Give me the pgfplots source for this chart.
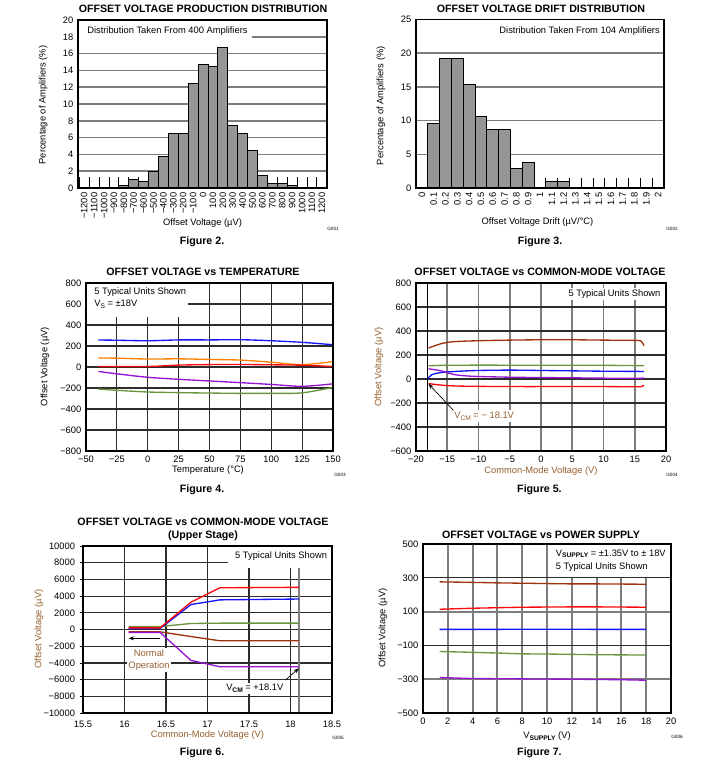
\documentclass[border=0pt]{standalone}
\usepackage{pgfplots}
\pgfplotsset{compat=1.18}
\usepackage{fontspec}
\setmainfont{Liberation Sans}
\usetikzlibrary{arrows.meta}

\definecolor{cblue}{RGB}{20,20,245}
\definecolor{corange}{RGB}{255,128,0}
\definecolor{cred}{RGB}{250,10,10}
\definecolor{cpurple}{RGB}{150,20,210}
\definecolor{cgreen}{RGB}{105,150,60}
\definecolor{cbrown}{RGB}{160,50,15}
\definecolor{lblbrown}{RGB}{150,95,45}
\definecolor{gridd}{RGB}{45,45,45}
\definecolor{gridg}{RGB}{125,125,125}
\definecolor{barg}{RGB}{150,150,150}

\newcommand\tf{\fontsize{7}{8.4}\selectfont}
\newcommand\ttl{\bfseries\fontsize{8}{9.6}\selectfont}
\newcommand\gf{\fontsize{3.5}{4}\selectfont}
\newcommand\sub[1]{\raisebox{-0.4ex}{\fontsize{5}{5}\selectfont #1}}
\newcommand\bsub[1]{\raisebox{-0.35ex}{\bfseries\fontsize{5}{5}\selectfont #1}}

\pgfplotsset{
  base/.style={scale only axis, clip=false, anchor=north west,
    axis line style={line width=1pt, black},
    tick label style={font=\tf}, label style={font=\tf},
    tick style={draw=none}, scaled ticks=false,
    /pgf/number format/assume math mode=true},
  crv/.style={line width=1pt, no marks},
}

\begin{document}
\begin{tikzpicture}
\path[use as bounding box] (0,0) rectangle (533.25pt,-584.25pt);

% ---------------- Figure 2 ----------------
\begin{axis}[base, at={(58.5pt,-15pt)}, width=186.75pt, height=126pt,
  xmin=-0.63, xmax=24.52, ymin=0, ymax=20,
  xtick={0,...,24},
  xticklabels={−1200,−1100,−1000,−900,−800,−700,−600,−500,−400,−300,−200,−100,0,100,200,300,400,500,600,700,800,900,1000,1100,1200},
  xticklabel style={rotate=90, anchor=east},
  ytick={0,2,...,20}, yticklabels={0,2,4,6,8,10,12,14,16,18,20},
  ymajorgrids, grid style={gridg, line width=1.1pt},
  xlabel={Offset Voltage (µV)}, ylabel={Percentage of Amplifiers (\%)},
  xlabel style={at={(axis description cs:0.5,-0.208)}, anchor=center},
  ylabel style={at={(axis description cs:-0.14,0.494)}, anchor=center}]
\addplot[ycomb, black, line width=0.7pt, no marks] coordinates {
 (-0.5,1.3) (0.5,1.3) (1.5,1.3) (2.5,1.3) (3.5,1.3) (4.5,1.3) (5.5,1.3) (6.5,1.3)
 (7.5,1.3) (8.5,1.3) (9.5,1.3) (10.5,1.3) (11.5,1.3) (12.5,1.3) (13.5,1.3) (14.5,1.3)
 (15.5,1.3) (16.5,1.3) (17.5,1.3) (18.5,1.3) (19.5,1.3) (20.5,1.3) (21.5,1.3) (22.5,1.3) (23.5,1.3)};
\addplot[ybar, bar width=1, bar shift=0, fill=barg, draw=black, line width=0.7pt] coordinates {
 (4,0.25) (5,1) (6,0.75) (7,2) (8,3.75) (9,6.5) (10,6.5) (11,12.5) (12,14.75) (13,14.5)
 (14,16.75) (15,7.5) (16,6.5) (17,4.5) (18,1.5) (19,0.5) (20,0.5) (21,0.25)};
\fill[white] (axis cs:-0.58,17.25) rectangle (axis cs:16.95,19.93);
\node[anchor=west, font=\tf, inner sep=0] at (axis cs:0.28,18.7) {Distribution Taken From 400 Amplifiers};
\draw[line width=1pt] (rel axis cs:0,0) rectangle (rel axis cs:1,1);
\end{axis}

% ---------------- Figure 3 ----------------
\begin{axis}[base, at={(312pt,-14.625pt)}, width=186pt, height=126.375pt,
  xmin=-0.5, xmax=20.5, ymin=0, ymax=25,
  xtick={0,...,20},
  xticklabels={0,0.1,0.2,0.3,0.4,0.5,0.6,0.7,0.8,0.9,1,1.1,1.2,1.3,1.4,1.5,1.6,1.7,1.8,1.9,2},
  xticklabel style={rotate=90, anchor=east},
  ytick={0,5,...,25}, yticklabels={0,5,10,15,20,25},
  ymajorgrids, grid style={gridg, line width=1.1pt},
  xlabel={Offset Voltage Drift (µV/°C)}, ylabel={Percentage of Amplifiers (\%)},
  xlabel style={at={(axis description cs:0.49,-0.202)}, anchor=center},
  ylabel style={at={(axis description cs:-0.141,0.488)}, anchor=center}]
\addplot[ycomb, black, line width=0.7pt, no marks] coordinates {
 (0.5,1.5) (1.5,1.5) (2.5,1.5) (3.5,1.5) (4.5,1.5) (5.5,1.5) (6.5,1.5) (7.5,1.5)
 (8.5,1.5) (9.5,1.5) (10.5,1.5) (11.5,1.5) (12.5,1.5) (13.5,1.5) (14.5,1.5) (15.5,1.5)
 (16.5,1.5) (17.5,1.5) (18.5,1.5) (19.5,1.5)};
\addplot[ybar, bar width=1, bar shift=0, fill=barg, draw=black, line width=0.7pt] coordinates {
 (1,9.6) (2,19.2) (3,19.2) (4,15.4) (5,10.6) (6,8.65) (7,8.65) (8,2.9) (9,3.85) (11,0.96) (12,0.96)};
\node[anchor=east, font=\tf, inner sep=0] at (rel axis cs:0.984,0.933) {Distribution Taken From 104 Amplifiers};
\draw[line width=1pt] (rel axis cs:0,0) rectangle (rel axis cs:1,1);
\end{axis}

% ---------------- Figure 4 ----------------
\begin{axis}[base, at={(64.5pt,-212.25pt)}, width=185.25pt, height=126pt,
  xmin=-50, xmax=150, ymin=-800, ymax=800,
  xtick={-50,-25,...,150}, xticklabels={−50,−25,0,25,50,75,100,125,150},
  ytick={-800,-600,...,800}, yticklabels={−800,−600,−400,−200,0,200,400,600,800},
  xmajorgrids, ymajorgrids, grid style={gridd, line width=0.9pt},
  xlabel={Temperature (°C)}, ylabel={Offset Voltage (µV)},
  xlabel style={at={(axis description cs:0.494,-0.113)}, anchor=center},
  ylabel style={at={(axis description cs:-0.166,0.502)}, anchor=center}]
\addplot[crv, cgreen, smooth] coordinates {(-40,-210) (-25,-222) (0,-238) (25,-244) (50,-248) (75,-251) (100,-251) (125,-246) (150,-194)};
\addplot[crv, cpurple, smooth] coordinates {(-40,-42) (-25,-65) (0,-98) (25,-117) (50,-133) (75,-149) (100,-166) (125,-184) (150,-160)};
\addplot[crv, corange, smooth] coordinates {(-40,86) (-25,84) (0,76) (25,78) (50,72) (75,66) (100,46) (125,22) (150,52)};
\addplot[crv, cred, smooth] coordinates {(-40,5) (0,5) (25,18) (50,23) (75,24) (100,21) (125,17) (150,5)};
\addplot[crv, cblue, smooth] coordinates {(-40,257) (-25,255) (0,250) (25,258) (50,258) (75,260) (100,250) (125,235) (150,212)};
\fill[white] (axis cs:-49.5,476) rectangle (axis cs:32.7,797);
\node[anchor=west, align=left, font=\tf, inner sep=0] at (axis cs:-43.5,657)
  {5 Typical Units Shown\\[0.6pt]V\sub{S} = ±18V};
\draw[line width=1pt] (rel axis cs:0,0) rectangle (rel axis cs:1,1);
\end{axis}

% ---------------- Figure 5 ----------------
\begin{axis}[base, at={(312pt,-212.25pt)}, width=187.5pt, height=126pt,
  xmin=-20, xmax=20, ymin=-600, ymax=800,
  xtick={-20,-15,...,20}, xticklabels={−20,−15,−10,−5,0,5,10,15,20},
  ytick={-600,-400,...,800}, yticklabels={−600,−400,−200,0,200,400,600,800},
  xmajorgrids, ymajorgrids,
  x grid style={gridg, line width=1.4pt}, y grid style={gridd, line width=0.9pt},
  xlabel={Common-Mode Voltage (V)}, ylabel={Offset Voltage (µV)},
  label style={text=lblbrown},
  xlabel style={at={(axis description cs:0.5,-0.119)}, anchor=center},
  ylabel style={at={(axis description cs:-0.148,0.50)}, anchor=center}]
\addplot[black, line width=0.6pt, no marks] coordinates {(-18.1,-600) (-18.1,800)};
\addplot[crv, cbrown, smooth] coordinates {(-18,258) (-16,294) (-14,311) (-10,319) (-5,324) (0,327) (5,327) (10,324) (15,322) (16,316) (16.5,277)};
\addplot[crv, cgreen, smooth] coordinates {(-18,110) (-14,115) (0,115) (10,114) (16.5,111)};
\addplot[crv, cblue, smooth] coordinates {(-18.1,2) (-17.5,35) (-16,54) (-13,65) (-10,71) (-5,74) (0,71) (5,68) (10,65) (16.5,63)};
\addplot[crv, cpurple, smooth] coordinates {(-18,85) (-16,68) (-14,38) (-12,26) (-10,21) (-5,15) (0,12) (5,10) (10,7) (16.5,7)};
\addplot[crv, cred, smooth] coordinates {(-18,-38) (-17,-45) (-15,-55) (-12,-60) (-5,-63) (5,-63) (10,-63) (15,-65) (16,-64) (16.5,-52)};
\node[anchor=east, font=\tf, fill=white, inner sep=1.2pt] at (rel axis cs:0.985,0.936) {5 Typical Units Shown};
\node[font=\tf, text=lblbrown, fill=white, inner sep=1.2pt] at (axis cs:-9.1,-308) {V\sub{CM} = − 18.1V};
\draw[-{Stealth[length=4pt,width=3pt]}, line width=0.5pt] (axis cs:-14.0,-262) -- (axis cs:-18.0,-40);
\draw[line width=1pt] (rel axis cs:0,0) rectangle (rel axis cs:1,1);
\end{axis}

% ---------------- Figure 6 ----------------
\begin{axis}[base, at={(62.25pt,-409.5pt)}, width=186.75pt, height=125.25pt,
  xmin=15.5, xmax=18.5, ymin=-10000, ymax=10000,
  xtick={15.5,16,...,18.5}, xticklabels={15.5,16,16.5,17,17.5,18,18.5},
  ytick={-10000,-8000,...,10000},
  yticklabels={−10000,−8000,−6000,−4000,−2000,0,2000,4000,6000,8000,10000},
  scaled y ticks=false, scaled x ticks=false,
  xmajorgrids, ymajorgrids, grid style={gridd, line width=0.9pt},
  ytick style={draw=black, line width=0.6pt}, tick align=outside, major tick length=2.5pt,
  ytick pos=left,
  xlabel={Common-Mode Voltage (V)}, ylabel={Offset Voltage (µV)},
  label style={text=lblbrown},
  xlabel style={at={(axis description cs:0.5,-0.132)}, anchor=center},
  ylabel style={at={(axis description cs:-0.177,0.503)}, anchor=center}]
\addplot[gridg, line width=1.4pt, no marks] coordinates {(18.1,-10000) (18.1,10000)};
\addplot[crv, cgreen] coordinates {(16.05,360) (16.43,360) (16.8,720) (17.15,760) (18.1,760)};
\addplot[crv, cbrown] coordinates {(16.05,-280) (16.43,-280) (16.8,-840) (17.15,-1350) (18.1,-1350)};
\addplot[crv, cpurple] coordinates {(16.05,-360) (16.43,-360) (16.8,-3700) (17.15,-4460) (18.1,-4460)};
\addplot[crv, cblue] coordinates {(16.05,80) (16.43,120) (16.8,2990) (17.15,3550) (18.1,3650)};
\addplot[crv, cred] coordinates {(16.05,200) (16.43,200) (16.8,3270) (17.15,5000) (18.1,5050)};
\fill[white] (axis cs:17.25,7330) rectangle (axis cs:18.49,9950);
\node[anchor=west, font=\tf, inner sep=0] at (axis cs:17.33,8838) {5 Typical Units Shown};
\draw[-{Stealth[length=4pt,width=3pt]}, line width=0.6pt] (axis cs:16.43,-1054) -- (axis cs:16.05,-1054);
\node[font=\tf, text=lblbrown, fill=white, inner sep=1pt, align=center] at (axis cs:16.295,-3653) {Normal\\[0.5pt]Operation};
\node[font=\tf, fill=white, inner sep=1pt] at (axis cs:17.57,-7043) {V\bsub{CM} = +18.1V};
\draw[-{Stealth[length=4pt,width=3pt]}, line width=0.5pt] (axis cs:17.94,-6050) -- (axis cs:18.1,-4650);
\draw[line width=1pt] (rel axis cs:0,0) rectangle (rel axis cs:1,1);
\end{axis}

% ---------------- Figure 7 ----------------
\begin{axis}[base, at={(317.25pt,-408pt)}, width=186pt, height=126.75pt,
  xmin=0, xmax=20, ymin=-500, ymax=500,
  xtick={0,2,...,20}, xticklabels={0,2,4,6,8,10,12,14,16,18,20},
  ytick={-500,-100,300,500}, yticklabels={−500,−100,300,500},
  extra y ticks={-300,100}, extra y tick labels={−300,100},
  extra y tick style={grid=major, y grid style={gridg, line width=1.4pt}},
  xmajorgrids, ymajorgrids,
  x grid style={gridg, line width=1.4pt}, y grid style={gridd, line width=0.9pt},
  xlabel={V\bsub{SUPPLY} (V)}, ylabel={Offset Voltage (µV)},
  xlabel style={at={(axis description cs:0.5,-0.136)}, anchor=center},
  ylabel style={at={(axis description cs:-0.161,0.503)}, anchor=center}]
\addplot[crv, cbrown] coordinates {(1.35,276) (4,273) (6,270) (8,268) (10,266) (12,264) (14,264) (16,263) (18,262)};
\addplot[crv, cred] coordinates {(1.35,114) (4,120) (6,123) (8,126) (10,127) (12,128) (14,128) (16,127) (18,126)};
\addplot[crv, cblue] coordinates {(1.35,-5) (6,-5) (10,-4) (14,-5) (18,-5)};
\addplot[crv, cgreen] coordinates {(1.35,-136) (4,-141) (6,-145) (8,-150) (10,-151) (12,-153) (14,-155) (16,-156) (18,-157)};
\addplot[crv, cpurple] coordinates {(1.35,-290) (4,-296) (8,-298) (12,-300) (16,-303) (18,-306)};
\fill[white] (axis cs:10.09,302) rectangle (axis cs:19.95,497);
\node[anchor=west, align=left, font=\tf, inner sep=0] at (axis cs:10.7,402)
  {V\bsub{SUPPLY} = ±1.35V to ± 18V\\[1.8pt]5 Typical Units Shown};
\draw[line width=1pt] (rel axis cs:0,0) rectangle (rel axis cs:1,1);
\end{axis}

% ---------------- titles and captions ----------------
\node[font=\ttl] at (152.25pt,-6.75pt) {OFFSET VOLTAGE PRODUCTION DISTRIBUTION};
\node[font=\ttl] at (405.75pt,-6.75pt) {OFFSET VOLTAGE DRIFT DISTRIBUTION};
\node[font=\ttl] at (152.25pt,-204pt) {OFFSET VOLTAGE vs TEMPERATURE};
\node[font=\ttl] at (405pt,-204pt) {OFFSET VOLTAGE vs COMMON-MODE VOLTAGE};
\node[font=\ttl] at (152.25pt,-391.3pt) {OFFSET VOLTAGE vs COMMON-MODE VOLTAGE};
\node[font=\ttl] at (152.25pt,-401.8pt) {(Upper Stage)};
\node[font=\ttl] at (405.75pt,-401.25pt) {OFFSET VOLTAGE vs POWER SUPPLY};

\node[font=\ttl] at (151.5pt,-181.5pt) {Figure 2.};
\node[font=\ttl] at (405pt,-181.5pt) {Figure 3.};
\node[font=\ttl] at (151.5pt,-367.5pt) {Figure 4.};
\node[font=\ttl] at (404.6pt,-367.5pt) {Figure 5.};
\node[font=\ttl] at (151.5pt,-564.75pt) {Figure 6.};
\node[font=\ttl] at (404.6pt,-564.75pt) {Figure 7.};

\node[font=\gf] at (249.75pt,-171.75pt) {G001};
\node[font=\gf] at (504pt,-171.75pt) {G002};
\node[font=\gf] at (255pt,-356.25pt) {G003};
\node[font=\gf] at (504pt,-356.25pt) {G004};
\node[font=\gf] at (253.5pt,-553.5pt) {G005};
\node[font=\gf] at (507.75pt,-552.75pt) {G006};
\end{tikzpicture}
\end{document}
